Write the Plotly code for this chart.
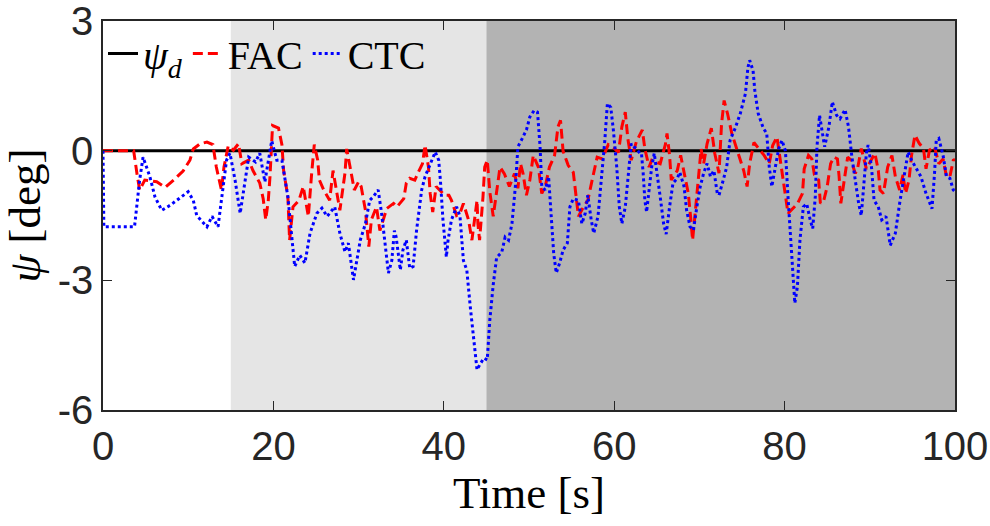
import plotly.graph_objects as go

# ---- data ----
time_range = [0, 100]
psi_d_time = [0, 100]
psi_d_vals = [0, 0]

phase_starts = [15, 45]
phase_ends = [45, 100]
phase_colors = ["#e5e5e5", "#b3b3b3"]

fac_samples = [
    (0, 0), (3.6, 0), (4.0, -0.55), (4.3, -0.91), (4.9, -0.68), (6.3, -0.72), (7.3, -0.85),
    (8.3, -0.68), (9.4, -0.47), (10.2, -0.22), (10.6, 0.04), (11.4, 0.16), (12.2, 0.2),
    (12.9, 0.14), (13.3, -0.38), (13.9, -0.91), (14.2, -0.38), (14.7, 0.11), (15.3, 0.01),
    (15.9, 0.16), (16.3, -0.3), (17.1, -0.22), (17.6, -0.46), (18.4, -0.75), (18.8, -1.11),
    (19.1, -1.6), (19.4, -1.15), (19.6, -0.6), (19.9, 0.58), (20.6, 0.52), (21.0, 0.14),
    (21.2, -0.46), (21.7, -1.07), (21.9, -2.07), (22.3, -1.3), (23.0, -1.15), (23.5, -0.83),
    (24.1, -1.52), (24.5, -0.5), (24.8, 0.14), (25.2, -0.22), (25.4, -0.68), (25.9, -0.91),
    (26.6, -1.15), (27.0, -0.46), (27.4, -0.95), (27.8, -1.38), (28.4, -0.52), (28.6, 0.04),
    (29.0, -0.38), (29.5, -0.91), (30.0, -0.72), (30.3, -0.83), (30.8, -1.38), (31.2, -2.22),
    (31.5, -1.6), (32.1, -1.3), (32.5, -1.85), (33.3, -1.34), (34.1, -1.22), (34.5, -1.3),
    (35.3, -1.11), (35.6, -0.75), (36.0, -0.64), (36.6, -0.68), (37.1, -0.46), (37.5, -0.3),
    (37.8, 0.13), (38.2, -0.38), (38.4, -0.99), (38.7, -1.42), (39.1, -0.83), (40.1, -1.03),
    (40.6, -1.03), (40.9, -1.15), (41.5, -1.5), (41.9, -1.45), (42.3, -1.22), (42.9, -1.6),
    (43.3, -2.07), (43.7, -1.45), (43.9, -1.15), (44.0, -1.69), (44.2, -2.07), (44.6, -1.07),
    (44.8, -0.38), (45.1, -0.22), (45.4, -0.95), (45.8, -1.52), (46.2, -0.91), (46.6, -0.38),
    (47.1, -0.53), (47.7, -0.83), (48.3, -0.53), (48.7, -0.87), (49.0, -0.3), (49.3, -0.53),
    (49.7, -1.03), (50.1, -0.68), (50.5, -0.11), (51.1, -0.38), (51.5, -0.99), (51.9, -0.83),
    (52.4, -0.38), (53.0, -0.11), (53.4, 0.55), (53.7, 0.7), (54.0, -0.01), (54.6, -0.34),
    (55.2, -0.5), (55.5, -0.95), (55.8, -1.52), (56.4, -1.3), (56.9, -1.15), (57.5, -0.6),
    (58.0, -0.15), (58.6, -0.19), (59.3, 0.14), (59.9, 0.07), (60.5, -0.04), (60.9, 0.55),
    (61.3, 0.89), (61.6, 0.28), (62.0, -0.22), (62.6, 0.21), (62.9, 0.32), (63.3, 0.48),
    (63.6, 0.04), (64.1, -0.38), (64.4, -0.22), (65.4, -0.3), (66.0, 0.14), (66.2, 0.4),
    (66.5, -0.11), (66.7, -0.68), (67.4, -0.46), (67.8, -0.11), (68.3, -0.6), (68.7, -0.99),
    (69.0, -1.6), (69.2, -2.07), (69.5, -1.45), (69.9, -0.68), (70.2, 0.04), (70.5, -0.3),
    (70.9, 0.16), (71.4, 0.52), (71.8, -0.06), (72.3, -0.52), (72.6, 0.62), (72.9, 1.16),
    (73.3, 0.86), (73.8, 0.4), (74.4, 0.04), (75.2, -0.46), (75.6, -0.83), (75.9, -0.3),
    (76.4, 0.19), (77.0, 0.04), (77.6, -0.11), (78.2, -0.3), (78.6, 0.12), (79.1, 0.32),
    (79.7, -0.46), (80.1, -0.99), (80.4, -1.45), (81.5, -1.23), (82.1, -0.99), (82.3, -0.42),
    (82.8, -0.11), (83.2, -0.19), (83.5, -0.56), (84.0, -0.68), (84.2, -1.22), (84.6, -1.15),
    (85.0, -0.83), (85.4, -0.3), (85.8, -0.15), (86.2, -0.19), (86.4, -0.6), (86.6, -1.22),
    (87.0, -0.68), (87.4, -0.15), (87.8, -0.22), (88.3, -0.53), (88.6, -0.38), (89.0, 0.05),
    (89.6, -0.42), (90.2, -0.22), (90.6, -0.06), (91.0, -0.46), (91.2, -0.91), (91.6, -0.99),
    (92.1, -0.38), (92.6, -0.11), (93.0, -0.6), (93.5, -0.91), (93.9, -0.56), (94.2, -0.99),
    (94.6, -0.68), (94.9, -0.11), (95.3, 0.36), (95.8, 0.17), (96.3, 0.05), (96.6, -0.42),
    (97.0, 0.01), (97.6, 0.09), (98.1, -0.3), (98.6, -0.19), (99.0, -0.6), (99.4, -0.6),
    (99.8, -0.22), (100, -0.2),
]

ctc_samples = [
    (0, 0.0), (0.1, -1.76), (3.7, -1.76), (4.3, -0.68), (4.7, -0.15), (5.5, -0.6), (6.1, -1.07),
    (6.9, -1.38), (7.9, -1.26), (9.0, -1.1), (10.0, -0.95), (10.6, -1.15), (11.0, -1.5),
    (12.2, -1.76), (12.8, -1.52), (13.5, -1.76), (13.9, -1.15), (14.5, -0.22), (14.9, -0.06),
    (15.5, -0.68), (16.1, -1.45), (16.7, -0.68), (17.1, -0.15), (17.9, -0.26), (18.4, -0.06),
    (19.0, -0.72), (19.4, -0.22), (19.8, 0.23), (20.4, -0.22), (21.0, -0.22), (21.7, -1.07),
    (22.1, -1.91), (22.5, -2.68), (23.1, -2.42), (23.7, -2.6), (24.3, -1.91), (25.1, -1.45),
    (25.7, -1.33), (26.3, -1.52), (27.2, -1.3), (27.8, -1.91), (28.4, -2.34), (28.8, -2.14),
    (29.4, -2.99), (30.2, -2.07), (30.8, -1.69), (31.3, -1.15), (31.7, -1.07), (32.3, -0.91),
    (32.7, -1.45), (33.1, -2.22), (33.5, -2.83), (33.9, -2.54), (34.2, -1.85), (34.4, -1.99),
    (34.9, -2.76), (35.2, -2.3), (35.6, -2.07), (36.0, -2.72), (36.4, -2.68), (36.8, -1.85),
    (37.4, -0.91), (37.8, -0.6), (38.4, -0.3), (39.0, -0.03), (39.4, -0.22), (39.6, -0.68),
    (39.9, -1.6), (40.3, -2.46), (40.5, -2.07), (40.9, -1.6), (41.5, -1.3), (41.9, -1.52),
    (42.3, -2.54), (42.7, -2.76), (43.1, -3.6), (43.5, -4.38), (43.9, -5.07), (44.2, -4.96),
    (44.7, -4.8), (45.1, -4.84), (45.4, -3.92), (45.8, -3.1), (46.2, -2.47), (46.8, -2.35),
    (47.2, -2.0), (47.6, -2.07), (48.0, -1.69), (48.4, -0.83), (48.7, 0.09), (49.1, 0.24),
    (49.7, 0.48), (50.1, 0.78), (50.6, 0.93), (51.0, 0.89), (51.3, 0.09), (51.5, -0.83),
    (51.9, -0.91), (52.3, -0.6), (52.6, -1.45), (52.9, -2.38), (53.2, -2.83), (53.6, -2.6),
    (54.0, -2.3), (54.5, -2.14), (54.8, -1.3), (55.2, -1.11), (55.8, -1.15), (56.2, -1.69),
    (56.6, -1.45), (56.9, -1.03), (57.3, -1.6), (57.6, -1.91), (58.1, -1.52), (58.5, -0.68),
    (58.9, 0.24), (59.2, 1.09), (59.6, 1.0), (59.9, 0.48), (60.3, -0.38), (60.6, -1.3),
    (60.9, -1.69), (61.3, -1.3), (61.7, -0.52), (62.0, 0.16), (62.3, 0.09), (62.6, 0.05),
    (63.0, -0.06), (63.2, -0.06), (63.4, -0.52), (63.6, -1.15), (63.8, -1.42), (64.1, -0.91),
    (64.4, -0.38), (64.7, -0.06), (65.1, -0.6), (65.4, -1.07), (65.8, -1.69), (66.1, -1.93),
    (66.5, -1.3), (66.9, -0.75), (67.4, -0.64), (67.7, -0.5), (68.2, -0.83), (68.5, -1.38),
    (68.9, -1.76), (69.3, -1.84), (69.7, -1.3), (70.1, -0.83), (70.5, -0.52), (70.9, -0.3),
    (71.3, -0.6), (71.7, -0.46), (72.1, -0.99), (72.3, -1.03), (72.8, -0.68), (73.2, -0.38),
    (73.6, 0.24), (74.2, 0.52), (74.8, 0.86), (75.4, 1.32), (75.7, 1.93), (75.9, 2.09),
    (76.3, 1.85), (76.5, 1.4), (76.9, 0.86), (77.5, 0.52), (77.9, 0.4), (78.2, -0.38),
    (78.5, -0.83), (78.9, -0.38), (79.3, 0.04), (79.7, 0.24), (80.1, -0.01), (80.4, -1.07),
    (80.8, -2.22), (81.2, -3.53), (81.5, -3.15), (81.8, -2.07), (82.2, -1.3), (82.6, -1.23),
    (83.0, -1.6), (83.3, -1.8), (83.6, -1.07), (83.8, 0.09), (84.1, 0.82), (84.4, 0.4),
    (84.7, 0.09), (85.2, 0.55), (85.6, 1.13), (86.1, 0.82), (86.5, 0.74), (87.1, 0.95),
    (87.5, 0.55), (87.9, -0.15), (88.3, -0.68), (88.7, -1.23), (89.0, -1.5), (89.3, -0.68),
    (89.6, -0.06), (89.8, 0.13), (90.2, -0.38), (90.5, -1.15), (91.0, -1.3), (91.4, -1.6),
    (91.9, -1.52), (92.4, -2.19), (93.0, -1.91), (93.5, -1.22), (94.1, -0.52), (94.5, -0.03),
    (94.9, -0.22), (95.5, -0.42), (96.0, -0.6), (96.6, -0.99), (97.3, -1.34), (97.6, -0.52),
    (97.8, 0.24), (98.1, 0.28), (98.6, -0.11), (99.0, -0.6), (99.4, -0.64), (99.8, -0.91),
    (100, -0.95),
]

x_ticks = [0, 20, 40, 60, 80, 100]
y_ticks = [-6, -3, 0, 3]
y_tick_text = ["-6", "-3", "0", "3"]

fac_time = [p[0] for p in fac_samples]
fac_psi = [p[1] for p in fac_samples]
ctc_time = [p[0] for p in ctc_samples]
ctc_psi = [p[1] for p in ctc_samples]

fig = go.Figure()

for x0, x1, c in zip(phase_starts, phase_ends, phase_colors):
    fig.add_vrect(x0=x0, x1=x1, fillcolor=c, opacity=1, line_width=0, layer="below")

fig.add_trace(go.Scatter(x=psi_d_time, y=psi_d_vals, mode="lines",
                         name="<i>ψ</i><sub><i>d</i></sub>",
                         line=dict(color="black", width=3)))
fig.add_trace(go.Scatter(x=fac_time, y=fac_psi, mode="lines", name="FAC",
                         line=dict(color="#ff0000", width=3, dash="10px,5px")))
fig.add_trace(go.Scatter(x=ctc_time, y=ctc_psi, mode="lines", name="CTC",
                         line=dict(color="#0000ff", width=3, dash="3px,3px")))

tick_font = dict(family="Liberation Sans, Arial, Helvetica", size=40, color="#262626")
title_font = dict(family="Liberation Serif, Times New Roman, serif", size=45, color="#000000")

fig.update_layout(
    width=990, height=526,
    margin=dict(l=103, r=35, t=21, b=116, autoexpand=False),
    plot_bgcolor="white", paper_bgcolor="white",
    showlegend=True,
    legend=dict(orientation="h", x=0.0, y=1.0, xanchor="left", yanchor="top",
                bgcolor="rgba(0,0,0,0)", borderwidth=0,
                font=dict(family="Liberation Serif, Times New Roman, serif", size=40, color="black"),
                itemwidth=30, tracegroupgap=0),
    xaxis=dict(range=time_range, tickvals=x_ticks, ticks="inside", ticklen=9, tickwidth=1,
               tickcolor="#262626", showline=True, linecolor="#262626", linewidth=1.5,
               mirror="ticks", showgrid=False, zeroline=False, tickfont=tick_font,
               ticklabeloverflow="allow", automargin=False,
               title=dict(text="Time [s]", font=title_font, standoff=4)),
    yaxis=dict(range=[-6, 3], tickvals=y_ticks, ticktext=y_tick_text, ticks="inside",
               ticklen=9, tickwidth=1, tickcolor="#262626", showline=True,
               linecolor="#262626", linewidth=1.5, mirror="ticks", showgrid=False,
               zeroline=False, tickfont=tick_font, ticklabeloverflow="allow",
               automargin=False,
               title=dict(text="<i>ψ</i> [deg]", font=title_font, standoff=8)),
)

fig.write_html("out.html")
